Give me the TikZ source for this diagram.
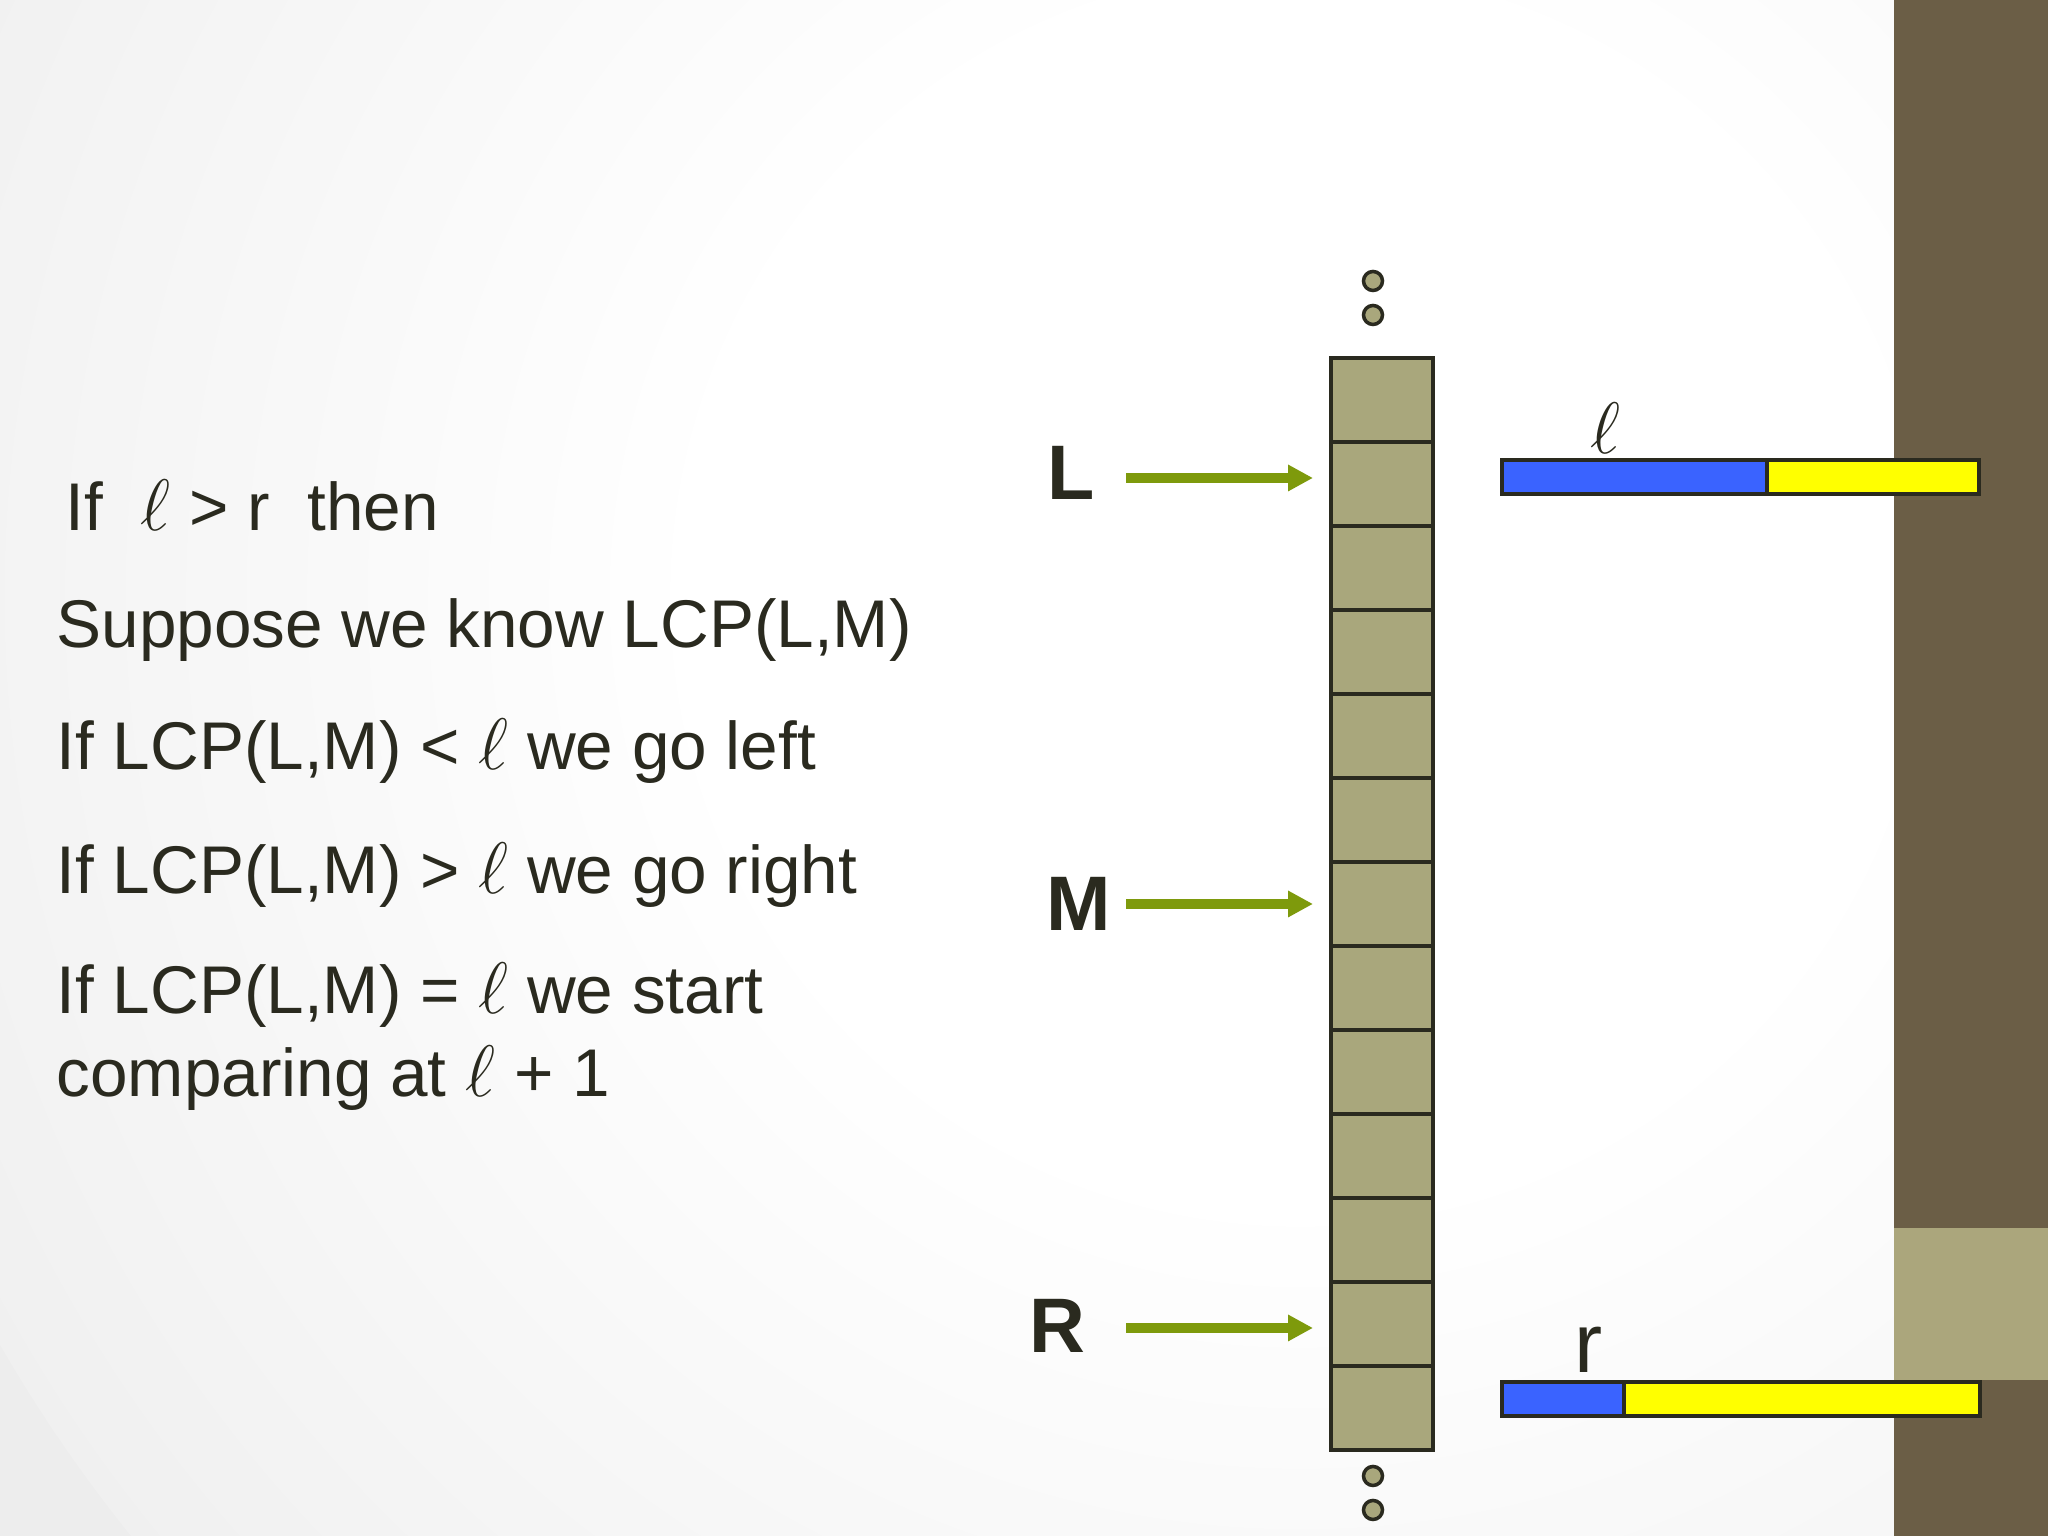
\documentclass[tikz,border=0pt]{standalone}
\usepackage{fontspec}
\setmainfont{Liberation Sans}
\usepackage{tikz}
\usetikzlibrary{arrows.meta}
\usetikzlibrary{shapes,positioning}
\definecolor{slidebrown}{HTML}{6B5E46}
\definecolor{slidetan}{HTML}{ABA67C}
\definecolor{cellfill}{HTML}{A9A77C}
\definecolor{ptrgreen}{HTML}{7E9A0C}
\definecolor{lcpblue}{HTML}{3A63FF}
\definecolor{lcpyellow}{HTML}{FFFF00}
\definecolor{ink}{HTML}{2A2A1F}
\pgfdeclareradialshading{slidebg}{\pgfpoint{0bp}{0bp}}{color(0bp)=(white); color(10bp)=(white); color(28bp)=(gray!14); color(50bp)=(gray!14)}
\tikzset{cell/.style={draw=ink, fill=cellfill, line width=1.1pt, minimum width=1.02cm, minimum height=0.84cm, inner sep=0pt, outer sep=0pt}}
\tikzset{dotcell/.style={circle, draw=ink, fill=cellfill, line width=1pt, minimum size=0.19cm, inner sep=0pt}}
\tikzset{ptr/.style={->, draw=ptrgreen, line width=2.6pt, shorten >=0.18cm}}
\tikzset{tag/.style={font=\fontsize{22}{26}\selectfont\bfseries, text=ink, inner sep=0pt}}
\tikzset{txt/.style={font=\fontsize{19.2}{23}\selectfont, text=ink, inner sep=0pt}}
\tikzset{seg/.style={draw=ink, line width=0.9pt, minimum height=0.34cm, inner sep=0pt, outer sep=0pt}}

\begin{document}
\begin{tikzpicture}[>={Triangle[length=0.25cm,width=0.25cm]}]
			\useasboundingbox (0,0) rectangle (20.48,15.36);
			\fill[gray!14] (0,0) rectangle (20.48,15.36);
			\begin{scope}
				\clip (0,0) rectangle (20.48,15.36);
				\shade[shading=slidebg] (13,9.4) circle (15);
			\end{scope}
			\fill[slidebrown] (18.94,0) rectangle (20.48,15.36);
			\fill[slidetan] (18.94,1.56) rectangle (20.48,3.08);
			
			% text on the left
			\node[txt, anchor=base west] (s1) at (0.65,10.05) {If\ \ $\ell$ > r\ \ then};
			\node[txt, anchor=base west] (s2) at (0.56,8.88) {Suppose we know LCP(L,M)};
			\node[txt] (s3) [below=1.22cm of s2.base west, anchor=base west] {If LCP(L,M) < $\ell$ we go left};
			\node[txt] (s4) [below=1.24cm of s3.base west, anchor=base west] {If LCP(L,M) > $\ell$ we go right};
			\node[txt] (s5) [below=1.20cm of s4.base west, anchor=base west] {If LCP(L,M) = $\ell$ we start};
			\node[txt] (s6) [below=0.83cm of s5.base west, anchor=base west] {comparing at $\ell$ + 1};
			
			% the array
			\node[cell] (C1) at (13.82,11.36) {};
			\node[cell] (C2) [below=0cm of C1] {};
			\node[cell] (C3) [below=0cm of C2] {};
			\node[cell] (C4) [below=0cm of C3] {};
			\node[cell] (C5) [below=0cm of C4] {};
			\node[cell] (C6) [below=0cm of C5] {};
			\node[cell] (C7) [below=0cm of C6] {};
			\node[cell] (C8) [below=0cm of C7] {};
			\node[cell] (C9) [below=0cm of C8] {};
			\node[cell] (C10) [below=0cm of C9] {};
			\node[cell] (C11) [below=0cm of C10] {};
			\node[cell] (C12) [below=0cm of C11] {};
			\node[cell] (C13) [below=0cm of C12] {};
			
			\node[dotcell] (T1) at ([shift={(-0.09,0.77)}]C1.north) {};
			\node[dotcell] (T2) at ([shift={(-0.09,0.43)}]C1.north) {};
			\node[dotcell] (B1) at ([shift={(-0.09,-0.26)}]C13.south) {};
			\node[dotcell] (B2) at ([shift={(-0.09,-0.60)}]C13.south) {};
			
			% pointers
			\coordinate[left=2.05cm of C2.west, yshift=0.06cm] (AL);
			\coordinate[left=2.05cm of C7.west] (AM);
			\coordinate[left=2.05cm of C12.west, yshift=-0.04cm] (AR);
			\node[tag] (L) [left=0.31cm of AL, yshift=0.05cm] {L};
			\node[tag] (M) [left=0.14cm of AM] {M};
			\node[tag] (R) [left=0.40cm of AR, yshift=0.02cm] {R};
			\path (AL) edge[ptr] (AL -| C2.west);
			\path (AM) edge[ptr] (AM -| C7.west);
			\path (AR) edge[ptr] (AR -| C12.west);
			
			% the two strings
			\node[seg, fill=lcpblue, minimum width=2.65cm, anchor=west] (Lb) at (15.02,10.59) {};
			\node[seg, fill=lcpyellow, minimum width=2.12cm] (Ly) [right=0cm of Lb] {};
			\node[seg, fill=lcpblue, minimum width=1.22cm, anchor=west] (Rb) at (15.02,1.37) {};
			\node[seg, fill=lcpyellow, minimum width=3.56cm] (Ry) [right=0cm of Rb] {};
			\node[txt] (ell) at (16.05,11.08) {$\ell$};
			\node[txt, font=\fontsize{24}{28}\selectfont] (rr) at (15.89,1.86) {r};
		\end{tikzpicture}
\end{document}
